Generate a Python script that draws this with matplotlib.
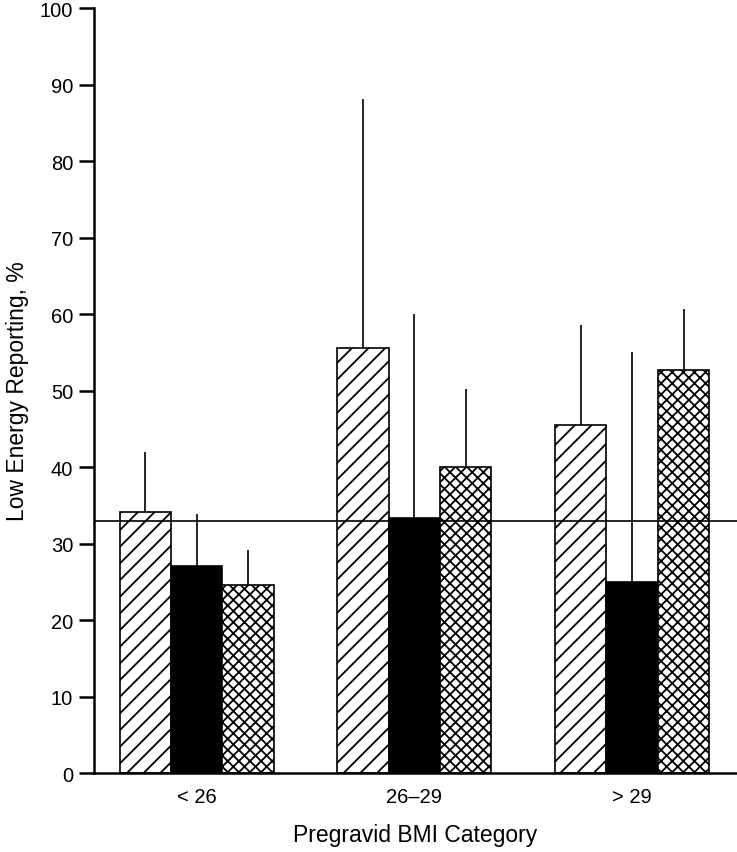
import numpy as np
import matplotlib
matplotlib.use("Agg")
import matplotlib.pyplot as plt

plt.rcParams['font.family'] = ['Liberation Sans', 'DejaVu Sans']
plt.rcParams['hatch.linewidth'] = 1.3

# data
categories = ["< 26", "26\u201329", "> 29"]
hatched_vals = [34.1, 55.6, 45.5]
hatched_err = [7.8, 32.5, 13.1]
black_vals = [27.1, 33.3, 25.0]
black_err = [6.8, 26.7, 30.1]
cross_vals = [24.6, 40.0, 52.7]
cross_err = [4.6, 10.2, 7.9]
ref_line = 33.0

fig = plt.figure(figsize=(7.37, 8.53), dpi=100)
ax = fig.add_axes([0.1275, 0.0926, 0.872, 0.8968])

x = np.arange(len(categories))
w = 0.236

series = [
    (hatched_vals, hatched_err, -w, 'white', '//'),
    (black_vals, black_err, 0, 'black', None),
    (cross_vals, cross_err, w, 'white', 'xxx'),
]
for vals, err, off, fc, hatch in series:
    ax.bar(x + off, vals, w, color=fc, edgecolor='black', linewidth=1.2,
           hatch=hatch, zorder=2)
    ax.errorbar(x + off, vals, yerr=[np.zeros(len(vals)), err], fmt='none',
                ecolor='black', elinewidth=1.2, capsize=0, zorder=1)

ax.axhline(ref_line, color='black', linewidth=1.2, zorder=3)

ax.set_xlim(-0.472, 2.48)
ax.set_ylim(0, 100)
ax.set_yticks(np.arange(0, 101, 10))
ax.set_xticks(x)
ax.set_xticklabels(categories)
ax.tick_params(axis='y', length=11, width=1.8, labelsize=14.5, pad=4)
ax.tick_params(axis='x', length=0, labelsize=14.5, pad=10)
ax.spines['top'].set_visible(False)
ax.spines['right'].set_visible(False)
ax.spines['left'].set_linewidth(1.8)
ax.spines['bottom'].set_linewidth(1.8)

ax.set_ylabel("Low Energy Reporting, %", fontsize=16.5, labelpad=8)
ax.set_xlabel("Pregravid BMI Category", fontsize=16.5, labelpad=12)

fig.savefig("out.png", dpi=100)
